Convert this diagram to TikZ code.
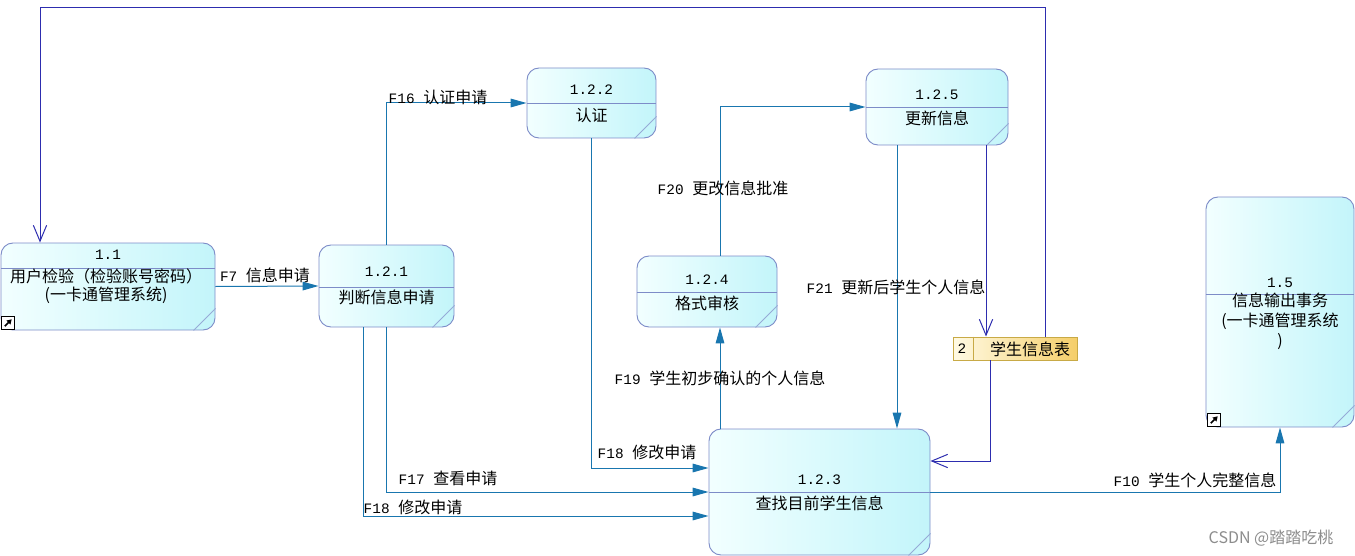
\documentclass[tikz,border=0pt]{standalone}
\usepackage{fontspec}
\setmainfont{Noto Sans CJK SC}
\newfontfamily\lat{Liberation Mono}[Scale=0.9]
\usetikzlibrary{arrows.meta,calc}
\definecolor{pborder}{RGB}{125,140,200}
\definecolor{pfillA}{RGB}{242,255,255}
\definecolor{pfillB}{RGB}{195,245,250}
\definecolor{foldc}{RGB}{150,170,215}
\definecolor{flowc}{RGB}{25,118,175}
\definecolor{navyc}{RGB}{45,45,175}
\definecolor{storeB}{RGB}{200,170,70}
\definecolor{storeA}{RGB}{255,250,228}
\definecolor{storeC}{RGB}{245,206,105}
\begin{document}
\begin{tikzpicture}[x=0.75pt,y=-0.75pt,
  every node/.style={font=\fontsize{12pt}{13.5pt}\selectfont, inner sep=0pt},
  proc/.style={draw=pborder, line width=0.7pt, rounded corners=9pt, left color=pfillA, right color=pfillB},
  divl/.style={draw=pborder, line width=0.7pt},
  fold/.style={draw=foldc, line width=0.6pt},
  icon/.style={draw=black, fill=white, line width=0.6pt, minimum size=9.5pt},
  storebox/.style={draw=storeB, line width=0.7pt, left color=storeA, right color=storeC},
  tarr/.style={draw=flowc, line width=0.75pt, -{Triangle[length=12pt,width=6.5pt,fill=flowc]}},
  narr/.style={draw=navyc, line width=0.75pt, -{Straight Barb[length=12pt,width=10pt]}},
  lbl/.style={text=black}
]
\useasboundingbox (0,0) rectangle (1355,556);

% ---------- processes ----------
\node[proc, minimum width=160.5pt, minimum height=65.25pt] (p11) at (108,286.5) {};
\node[proc, minimum width=101.25pt, minimum height=61.5pt] (p121) at (386.5,286) {};
\node[proc, minimum width=96.75pt, minimum height=52.5pt] (p122) at (591.5,103) {};
\node[proc, minimum width=106.5pt, minimum height=57pt] (p125) at (937,107) {};
\node[proc, minimum width=105pt, minimum height=53.25pt] (p124) at (707,291.5) {};
\node[proc, minimum width=165.75pt, minimum height=94.5pt] (p123) at (819.5,492) {};
\node[proc, minimum width=111pt, minimum height=172.5pt] (p15) at (1280,312) {};

% divider levels
\coordinate (d11) at (0,268);
\coordinate (d121) at (0,287);
\coordinate (d122) at (0,103);
\coordinate (d125) at (0,107);
\coordinate (d124) at (0,292);
\coordinate (d123) at (0,492);
\coordinate (d15) at (0,294);
\foreach \p/\d in {p11/d11,p121/d121,p122/d122,p125/d125,p124/d124,p123/d123,p15/d15}{
  \draw[divl] (\p.west |- \d) -- (\p.east |- \d);
  \draw[fold] ($(\p.south east)+(-22,0)$) -- ($(\p.south east)+(0,-22)$);
}

% texts
\node (n11) at (108,255) {\lat 1.1};
\node[align=center] (t11) at (106,286) {用户检验（检验账号密码）\\(一卡通管理系统)};
\node (n121) at (386.5,272) {\lat 1.2.1};
\node (t121) at (386.5,297) {判断信息申请};
\node (n122) at (591.5,90) {\lat 1.2.2};
\node (t122) at (591.5,115) {认证};
\node (n125) at (937,95) {\lat 1.2.5};
\node (t125) at (937,118) {更新信息};
\node (n124) at (707,280) {\lat 1.2.4};
\node (t124) at (707,303) {格式审核};
\node (n123) at (819.5,480) {\lat 1.2.3};
\node (t123) at (819.5,503) {查找目前学生信息};
\node (n15) at (1280,283) {\lat 1.5};
\node[align=center, font=\fontsize{12pt}{15pt}\selectfont] (t15) at (1280,321) {信息输出事务\\(一卡通管理系统\\)};

% icons
\node[icon] (i11) at (8,323) {};
\node[icon] (i15) at (1214,420) {};
\foreach \i in {i11,i15}{
  \draw[line width=1.3pt, -{Triangle[length=3.5pt,width=4pt]}] ($(\i.south west)+(3.5,-3.5)$) -- ($(\i.north east)+(-3,3)$);
}

% ---------- data store ----------
\node[storebox, minimum width=93pt, minimum height=17.25pt] (st) at (1015,348.5) {};
\coordinate (sc) at (973,0);
\draw[storeB, line width=0.7pt] (st.north -| sc) -- (st.south -| sc);
\node (stn) at (962,349) {\lat 2};
\node (stt) at (1030,349) {学生信息表};

% ---------- helper coordinates ----------
\coordinate (r468) at (0,468);
\coordinate (k516) at (363,516);
\coordinate (v720) at (720,0);
\coordinate (v897) at (897,0);
\coordinate (v986) at (986,0);
\coordinate (v990) at (990,0);
\coordinate (h461) at (0,461);
\coordinate (tr) at (1045,8);
\coordinate (tl) at (40,8);

% ---------- flows ----------
\draw[tarr] (p11.east) -- (p121.west);
\draw[tarr] (p121.north) |- (p122.west);
\draw[tarr] (p122.south) |- (p123.west |- r468);
\draw[tarr] (p121.south) |- (p123.west);
\draw[tarr] (p121.south -| k516) -- (k516) -- (p123.west |- k516);
\draw[tarr] (p123.north -| v720) -- (p124.south -| v720);
\draw[tarr] (p124.north -| v720) |- (p125.west);
\draw[tarr] (p125.south -| v897) -- (p123.north -| v897);
\draw[tarr] (p123.east) -| (p15.south);

\draw[narr] (p125.south -| v986) -- (st.north -| v986);
\draw[narr] (st.south -| v990) |- (p123.east |- h461);
\draw[narr] (st.north -| tr) -- (tr) -- (tl) -- (p11.north -| tl);

% ---------- labels ----------
\node[lbl] (lf7) at (265,275) {{\lat F7 }信息申请};
\node[lbl] (lf16) at (438,97) {{\lat F16 }认证申请};
\node[lbl] (lf18a) at (647,452) {{\lat F18 }修改申请};
\node[lbl] (lf17) at (448,478) {{\lat F17 }查看申请};
\node[lbl] (lf18b) at (413,507) {{\lat F18 }修改申请};
\node[lbl] (lf19) at (720,378) {{\lat F19 }学生初步确认的个人信息};
\node[lbl] (lf20) at (723,188) {{\lat F20 }更改信息批准};
\node[lbl] (lf21) at (896,287) {{\lat F21 }更新后学生个人信息};
\node[lbl] (lf10) at (1195,480) {{\lat F10 }学生个人完整信息};

\node[text=black!45] (wm) at (1271,538) {CSDN @踏踏吃桃};
\end{tikzpicture}
\end{document}
